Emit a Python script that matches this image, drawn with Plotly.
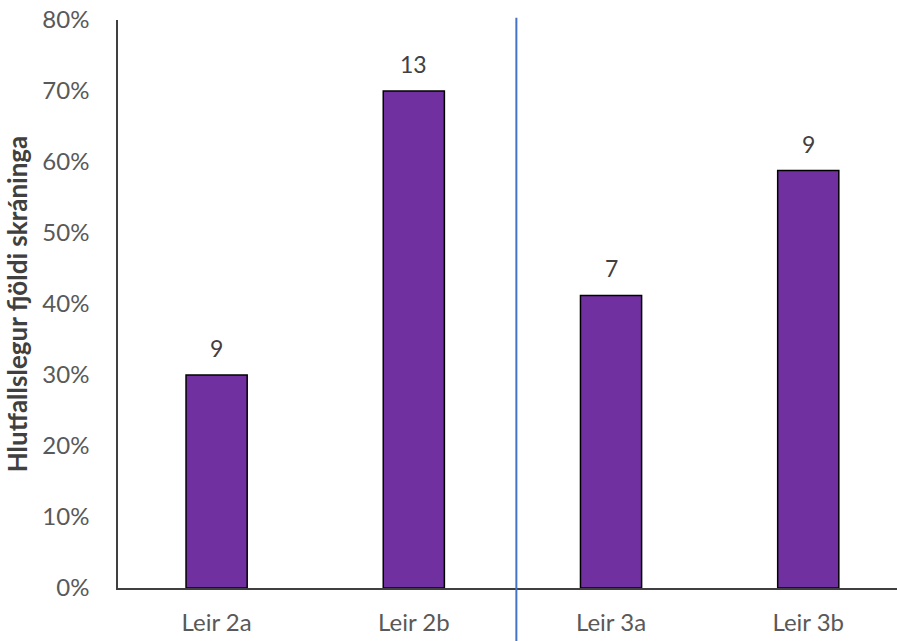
import plotly.graph_objects as go

categories = ["Leir 2a", "Leir 2b", "Leir 3a", "Leir 3b"]
shares = [0.30, 0.70, 0.412, 0.588]
counts = ["9", "13", "7", "9"]
y_ticks = [0, 0.1, 0.2, 0.3, 0.4, 0.5, 0.6, 0.7, 0.8]
y_tick_labels = ["0%", "10%", "20%", "30%", "40%", "50%", "60%", "70%", "80%"]
y_title = "Hlutfallslegur fjöldi skráninga"

FONT = "Lato, 'Open Sans', sans-serif"

fig = go.Figure()
fig.add_trace(go.Bar(
    x=list(range(len(categories))), y=shares, width=0.31,
    marker=dict(color="#7030A0", line=dict(color="#000000", width=1.5)),
    hoverinfo="skip",
))

for i, (v, c) in enumerate(zip(shares, counts)):
    fig.add_annotation(x=i, y=v, text=c, showarrow=False, yanchor="bottom",
                       yshift=11, font=dict(family=FONT, size=23, color="#404040"))

# separator line between groups
fig.add_shape(type="line", xref="x", yref="paper", x0=1.52, x1=1.52,
              y0=-0.1, y1=1.004, line=dict(color="#4472C4", width=2))

fig.update_layout(
    width=897, height=641,
    margin=dict(l=118, r=0, t=20, b=53),
    plot_bgcolor="white", paper_bgcolor="white",
    showlegend=False,
    font=dict(family=FONT, size=22, color="#595959"),
    xaxis=dict(
        range=[-0.5, 3.45],
        tickvals=list(range(len(categories))), ticktext=categories,
        showline=True, linecolor="#404040", linewidth=1.5,
        showgrid=False, zeroline=False, ticks="",
        ticklabelstandoff=12,
        tickfont=dict(family=FONT, size=24, color="#595959"),
    ),
    yaxis=dict(
        range=[0, 0.8], tickvals=y_ticks, ticktext=y_tick_labels,
        showline=True, linecolor="#404040", linewidth=1.5,
        showgrid=False, zeroline=False, ticks="",
        ticklabelstandoff=22,
        tickfont=dict(family=FONT, size=24, color="#595959"),
        title=dict(text="<b>" + y_title + "</b>", standoff=7,
                   font=dict(family=FONT, size=26, color="#404040")),
    ),
)

fig.write_html("out.html")
